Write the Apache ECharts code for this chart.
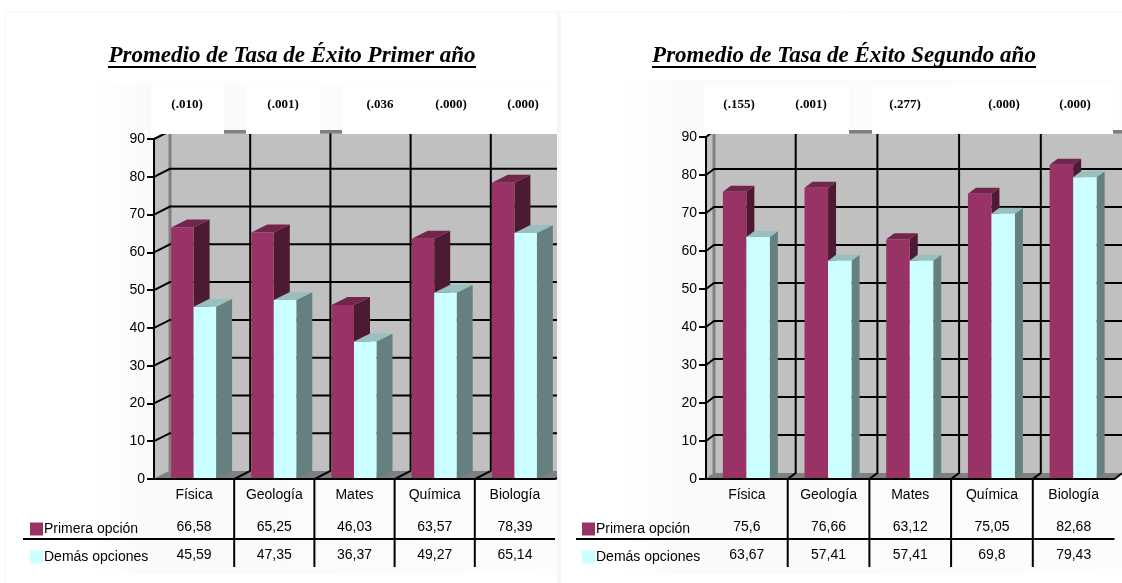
<!DOCTYPE html>
<html><head><meta charset="utf-8">
<style>html,body{margin:0;padding:0;background:#fff}#c{width:1122px;height:583px}</style>
<script src="https://cdn.jsdelivr.net/npm/echarts@6/dist/echarts.min.js"></script>
</head><body><div id="c"></div>
<script>
const categories = ['Física','Geología','Mates','Química','Biología'];
const yearOneFirst = [66.58,65.25,46.03,63.57,78.39];
const yearOneOther = [45.59,47.35,36.37,49.27,65.14];
const yearTwoFirst = [75.6,76.66,63.12,75.05,82.68];
const yearTwoOther = [63.67,57.41,57.41,69.8,79.43];
const yearOnePvalues = ['(.010)','(.001)','(.036','(.000)','(.000)'];
const yearTwoPvalues = ['(.155)','(.001)','(.277)','(.000)','(.000)'];
const yTicks = [10,20,30,40,50,60,70,80,90];
const nameFirst = 'Primera opción', nameOther = 'Demás opciones';

const SANS = '"Liberation Sans", Arial, sans-serif', SERIF = '"Liberation Serif", "Times New Roman", serif';
const chart = echarts.init(document.getElementById('c'), null, {renderer:'canvas'});
const BLACK = '#000', WALL = '#c0c0c0', DARK = '#808080';
const panels = [
  {depthX:16, depthY:8, clipR:557, barW:22.5, grid:{left:154, top:139, width:401, height:340}, a:yearOneFirst, b:yearOneOther, tableLeft:23,
   swatchX:30, title:'Promedio de Tasa de Éxito Primer año', titleX:292, ul:[108,476],
   pv:yearOnePvalues, pvX:[187,283,380,451,523], boxes:[[151,224],[246,320],[342,557]], strips:[[224,246],[320,342]]},
  {depthX:8, depthY:6, clipR:1122, barW:23.5, grid:{left:706, top:137, width:408.5, height:342}, a:yearTwoFirst, b:yearTwoOther, tableLeft:576,
   swatchX:582, title:'Promedio de Tasa de Éxito Segundo año', titleX:844, ul:[652,1036],
   pv:yearTwoPvalues, pvX:[739,811,905,1004,1075], boxes:[[704,849],[872,1113]], strips:[[849,872],[1113,1122]]}
];
const line = (pts,color,w) => ({type:'polyline', shape:{points:pts}, style:{stroke:color, lineWidth:w, fill:null}, silent:true});
const poly = (pts,color) => ({type:'polygon', shape:{points:pts}, style:{fill:color}, silent:true});

function wallRender(p){ return (params, api) => {
  const c = params.coordSys, bottom = c.y + c.height, dx = p.depthX, dy = p.depthY, r = c.x + c.width;
  const R = Math.min(r+dx, p.clipR), top = api.coord([0,90])[1];
  const yAtR = bottom - (R-r)*dy/dx;
  return {type:'group', children:[
    poly([[c.x+dx,top-dy],[R,top-dy],[R,bottom-dy],[c.x+dx,bottom-dy]], WALL),
    poly([[c.x,top],[c.x+dx,top-dy],[c.x+dx,bottom-dy],[c.x,bottom]], WALL),
    poly([[c.x,bottom],[c.x+dx,bottom-dy],[R,bottom-dy],[R,yAtR],[r,bottom]], DARK),
    line([[c.x+dx,top-dy],[c.x+dx,bottom-dy]], DARK, 3),
    line([[c.x,bottom],[c.x+dx,bottom-dy]], DARK, 1)
  ]};
};}
function gridRender(p){ return (params, api) => {
  const c = params.coordSys, y = api.coord([0, api.value(0)])[1];
  return line([[c.x,y],[c.x+p.depthX,y-p.depthY],[Math.min(c.x+c.width+p.depthX,p.clipR),y-p.depthY]], BLACK, 2);
};}
function dividerRender(p){ return (params, api) => {
  const c = params.coordSys, bottom = c.y + c.height, w = api.size([1,0])[0];
  const top = api.coord([0,90])[1];
  const kids = [];
  categories.forEach((_, i) => {
    const x = c.x + (i+1)*w;
    if (i < 4) {
      kids.push(line([[x+p.depthX,top-p.depthY],[x+p.depthX,bottom-p.depthY],[x,bottom],[x,567]], BLACK, 2));
    } else {
      const R = Math.min(x+p.depthX, p.clipR);
      kids.push(line([[R,bottom-(R-x)*p.depthY/p.depthX],[x,bottom]], BLACK, 2));
    }
  });
  kids.push(line([[p.tableLeft,539],[c.x+c.width,539]], BLACK, 2));
  return {type:'group', children:kids};
};}
function barRender(p, side, colors, rowY){ return (params, api) => {
  const idx = api.value(0), val = api.value(1);
  const center = api.coord([idx,0]), top = api.coord([idx,val])[1], base = center[1];
  const W = p.barW, dx = p.depthX, dy = p.depthY, mid = center[0]-0.5;
  const x0 = side < 0 ? mid-W : mid, x1 = x0 + W;
  return {type:'group', children:[
    poly([[x1,top],[x1+dx,top-dy],[x1+dx,base-dy],[x1,base]], colors.side),
    poly([[x0,top],[x0+dx,top-dy],[x1+dx,top-dy],[x1,top]], colors.top),
    poly([[x0,top],[x1,top],[x1,base],[x0,base]], colors.front),
    {type:'text', silent:true, style:{text:String(val).replace('.',','), x:center[0], y:rowY, align:'center', verticalAlign:'middle',
      font:'14px '+SANS, fill:'#000'}}
  ]};
};}
const firstColors = {front:'#993366', side:'#4d1a33', top:'#73264d'};
const otherColors = {front:'#ccffff', side:'#668080', top:'#99bfbf'};

const grids=[], xAxes=[], yAxes=[], series=[], titles=[], legends=[], graphics=[];
graphics.push({type:'rect', z:-2, silent:true, shape:{x:5,y:12,width:552,height:580}, style:{fill:'#fff',stroke:'#f6f6f6',lineWidth:1}});
graphics.push({type:'rect', z:-2, silent:true, shape:{x:560,y:12,width:570,height:580}, style:{fill:'#fff',stroke:'#f6f6f6',lineWidth:1}});
graphics.push({type:'rect', z:-1, silent:true, shape:{x:95,y:84,width:462,height:490},
  style:{fill:new echarts.graphic.LinearGradient(0,0,1,0,[{offset:0,color:'#ffffff'},{offset:0.12,color:'#fafafa'},{offset:1,color:'#fdfdfd'}])}});
graphics.push({type:'rect', z:-1, silent:true, shape:{x:625,y:80,width:497,height:494},
  style:{fill:new echarts.graphic.LinearGradient(0,0,1,0,[{offset:0,color:'#ffffff'},{offset:0.12,color:'#fafafa'},{offset:1,color:'#fdfdfd'}])}});
graphics.push({type:'rect', z:-1.5, silent:true, shape:{x:557,y:12,width:3.5,height:571}, style:{fill:'#f6f6f6'}});

panels.forEach((p, k) => {
  grids.push(p.grid);
  xAxes.push({type:'category', gridIndex:k, data:categories, z:5,
    axisLine:{lineStyle:{color:BLACK,width:2}}, axisTick:{show:false},
    axisLabel:{interval:0, color:'#000', fontFamily:SANS, fontSize:14, margin:9}});
  yAxes.push({type:'value', gridIndex:k, min:0, max:90, interval:10, z:5, splitLine:{show:false},
    axisLine:{show:true, lineStyle:{color:BLACK,width:2}},
    axisTick:{show:true, length:7, lineStyle:{color:BLACK,width:2}},
    axisLabel:{color:'#000', fontFamily:SANS, fontSize:14, margin:9, padding:[2,0,0,0]}});
  const base = {type:'custom', xAxisIndex:k, yAxisIndex:k, clip:false, silent:true, animation:false};
  series.push({...base, name:'wall'+k, renderItem:wallRender(p), data:[[0]], z:1});
  series.push({...base, name:'grid'+k, renderItem:gridRender(p), data:yTicks.map(v=>[v]), encode:{y:0}, z:1.2});
  series.push({...base, name:'div'+k, renderItem:dividerRender(p), data:[[0]], z:1.4});
  series.push({...base, name:nameFirst, renderItem:barRender(p,-1,firstColors,527.5), itemStyle:{color:firstColors.front},
    data:p.a.map((v,i)=>[i,v]), encode:{x:0,y:1}, z:2});
  series.push({...base, name:nameOther, renderItem:barRender(p,1,otherColors,555.5), itemStyle:{color:otherColors.front},
    data:p.b.map((v,i)=>[i,v]), encode:{x:0,y:1}, z:2.2});
  titles.push({text:p.title, left:p.titleX, top:45, textAlign:'center', padding:0,
    textStyle:{fontFamily:SERIF, fontStyle:'italic', fontWeight:'bold', fontSize:23, color:'#000'}});
  legends.push({data:[{name:nameFirst,icon:'rect'},{name:nameOther,icon:'rect'}], left:p.swatchX, top:522, orient:'vertical',
    itemWidth:13, itemHeight:13, itemGap:14, padding:0, selectedMode:false,
    textStyle:{fontFamily:SANS, fontSize:14, color:'#000', padding:[0,0,0,-4]}});
  graphics.push({type:'line', z:8, silent:true, shape:{x1:p.ul[0],y1:67,x2:p.ul[1],y2:67}, style:{stroke:'#000',lineWidth:2}});
  p.strips.forEach(s => graphics.push({type:'rect', z:8, silent:true, shape:{x:s[0],y:130,width:s[1]-s[0],height:3.5}, style:{fill:DARK}}));
  p.boxes.forEach(b => graphics.push({type:'rect', z:10, silent:true, shape:{x:b[0],y:85,width:b[1]-b[0],height:49}, style:{fill:'#fff'}}));
  p.pv.forEach((t,i) => graphics.push({type:'text', z:11, silent:true,
    style:{text:t, x:p.pvX[i], y:104.5, align:'center', verticalAlign:'middle', font:'bold 13px '+SERIF, fill:'#000'}}));
});
chart.setOption({animation:false, title:titles, grid:grids, xAxis:xAxes, yAxis:yAxes, legend:legends, series, graphic:{elements:graphics}});
</script></body></html>
